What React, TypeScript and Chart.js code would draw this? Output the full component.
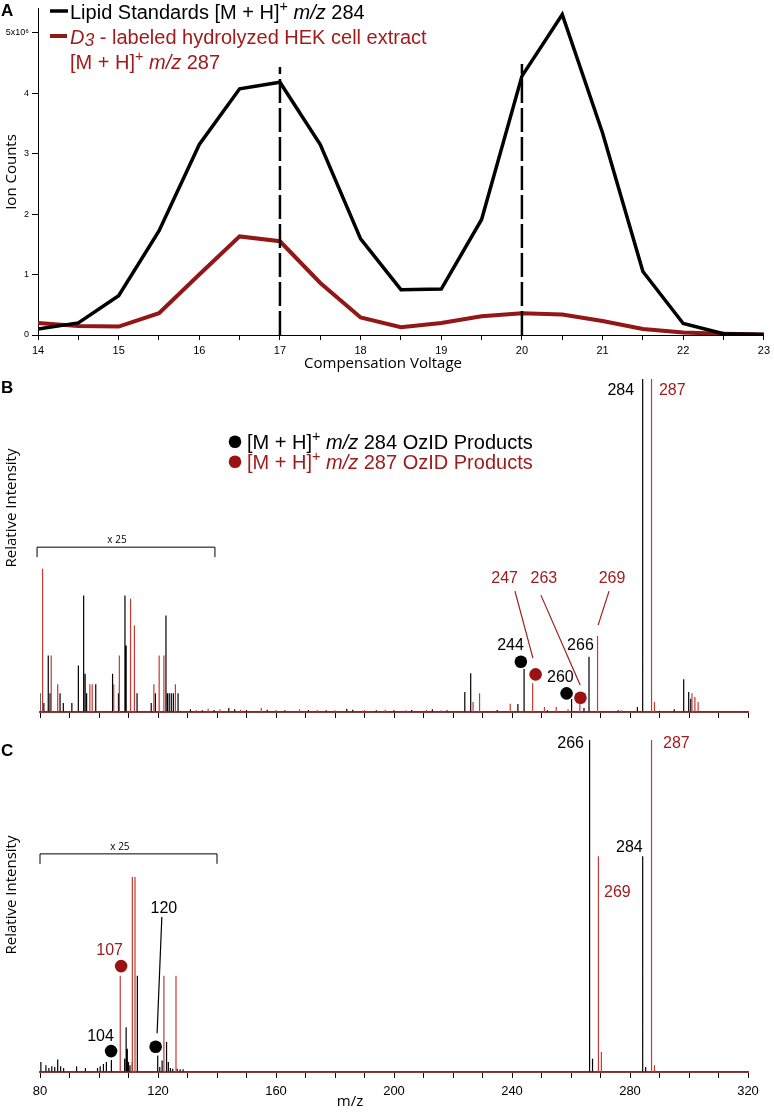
import React, { useEffect, useRef } from "react";
import { Chart, registerables } from "chart.js";

Chart.register(...registerables);

const FONT = '"Liberation Sans", Arial, Helvetica, sans-serif';
const HUMAN = '"Open Sans", "Noto Sans", sans-serif';
const NARROW = '"Liberation Sans Narrow", "Liberation Sans", Arial, sans-serif';
const BLACK = "#000000";
const RED_TEXT = "#a01c1c";
const RED_LINE = "#921717";
const RED_SPEC = "#c43a36";
const RED_DOT = "#9a1212";
const AXIS_RED = "#8a3a38";

Chart.defaults.font.family = FONT;

// ---------- Panel A: ion counts vs compensation voltage ----------
const compensationVoltage = [14, 14.5, 15, 15.5, 16, 16.5, 17, 17.5, 18, 18.5, 19, 19.5, 20, 20.5, 21, 21.5, 22, 22.5, 23];
const lipidStandards284 = [0.1, 0.2, 0.65, 1.72, 3.15, 4.07, 4.18, 3.15, 1.59, 0.75, 0.76, 1.91, 4.28, 5.3, 3.34, 1.05, 0.19, 0.02, 0.01];
const hekExtract287 = [0.2, 0.15, 0.14, 0.36, 1.0, 1.63, 1.55, 0.86, 0.29, 0.13, 0.2, 0.31, 0.36, 0.34, 0.23, 0.1, 0.04, 0.02, 0.01];
const markerVoltages = [17, 20];
const markerTops = [4.43, 4.48];
const ionCountTicks = [0, 1, 2, 3, 4, 5];
const ionCountLabels = ["0", "1", "2", "3", "4", "5x10⁶"];

// ---------- Panel B: OzID spectra (relative intensity %) ----------
const bStdMz = [80.0, 81.3, 82.8, 83.4, 86.8, 87.9, 90.8, 93.0, 94.8, 95.3, 95.8, 98.9, 104.6, 106.6, 108.8, 109.2, 112.9, 117.7, 119.1, 122.7, 123.2, 123.8, 124.5, 125.2, 126.8, 131, 135, 139, 144, 146, 150, 157, 163, 171, 177, 184, 186, 194, 200, 206, 213, 218, 224.0, 226.0, 235, 242.0, 244.1, 252, 260.2, 264.4, 266.1, 276, 282.5, 284.3, 290, 295, 298.2, 299.9, 300.6];
const bStdInt = [5.6, 2.7, 17, 5.6, 5.6, 2.7, 2.7, 14, 35, 11.5, 5.6, 8.3, 11.5, 5.6, 35, 20, 5.6, 2.7, 5.6, 29, 5.6, 5.6, 5.6, 5.6, 5.6, 0.8, 0.5, 0.6, 1.2, 0.8, 0.6, 0.7, 0.5, 0.6, 0.5, 1.0, 0.7, 0.5, 0.5, 0.6, 0.8, 0.5, 6, 11.6, 0.6, 2.4, 12.9, 0.5, 3.9, 1.2, 16.6, 0.5, 1.5, 100, 0.4, 0.8, 9.8, 6, 4];
const bLabMz = [80.7, 81.0, 83.8, 86.0, 96.9, 97.7, 105.0, 106.9, 110.7, 112.0, 118.6, 120.4, 122.0, 125.9, 133, 137, 141, 148, 155, 160, 168, 174, 180, 190, 197, 204, 211, 216, 226.8, 229.0, 239.4, 247.0, 251, 255, 259, 263.0, 269.0, 277, 287.3, 288.3, 301.0, 302.0, 303.1];
const bLabInt = [43, 17, 17, 8.3, 8.3, 8.3, 8.3, 17, 34, 26, 8.3, 17, 17, 8.3, 0.6, 1.0, 0.8, 0.7, 1.2, 0.6, 0.8, 0.6, 0.5, 0.6, 0.7, 0.5, 0.6, 0.5, 3, 5.6, 2.5, 8.6, 1.5, 1.5, 0.8, 2.5, 22.8, 0.5, 100, 3, 5.6, 4.5, 3];

// ---------- Panel C ----------
const cStdMz = [80.3, 82, 83, 84, 85, 86, 87, 88, 92.4, 95.4, 99.5, 100.4, 101.5, 102.5, 104.2, 108.7, 109.2, 109.6, 110.0, 110.5, 111.3, 113.0, 119.9, 120.6, 121.4, 122.9, 123.5, 124.2, 125.0, 126.5, 127.5, 128.5, 266.3, 267.3, 284.3, 285.3];
const cStdInt = [3, 2, 1.2, 1.7, 1.5, 3.8, 1.7, 1.2, 1.7, 1.2, 1.2, 1.7, 2.4, 3, 3.6, 4, 13.5, 7, 3, 2, 3, 29, 5, 1.5, 3.5, 9, 3, 1.2, 1, 1, 0.8, 0.8, 100, 4, 65, 1.5];
const cLabMz = [107.2, 111.3, 112.2, 122.0, 126.1, 269.3, 270.3, 287.3, 288.3];
const cLabInt = [29, 58.7, 58.7, 29, 29, 65, 6, 100, 2];

const mzMin = 80;
const mzMax = 320;

// annotations (data coordinates: m/z, % intensity)
type Lbl = { t: string; m: number; v: number; col: string; align: CanvasTextAlign };
const bLabels: Lbl[] = [
  { t: "284", m: 281.4, v: 96.4, col: BLACK, align: "right" },
  { t: "287", m: 289.8, v: 96.4, col: RED_TEXT, align: "left" },
  { t: "247", m: 237.5, v: 40.2, col: RED_TEXT, align: "center" },
  { t: "263", m: 250.8, v: 40.2, col: RED_TEXT, align: "center" },
  { t: "269", m: 273.9, v: 40.2, col: RED_TEXT, align: "center" },
  { t: "244", m: 239.5, v: 19.8, col: BLACK, align: "center" },
  { t: "266", m: 263.2, v: 19.8, col: BLACK, align: "center" },
  { t: "260", m: 256.4, v: 10.2, col: BLACK, align: "center" },
];
const bDots = [
  { m: 243.0, v: 15.1, col: BLACK },
  { m: 248.0, v: 11.3, col: RED_DOT },
  { m: 258.5, v: 5.6, col: BLACK },
  { m: 263.2, v: 4.3, col: RED_DOT },
];
const bLeaders = [
  { m1: 241.0, v1: 36.3, m2: 247.1, v2: 16.2, col: RED_TEXT },
  { m1: 249.8, v1: 35.1, m2: 263.1, v2: 8.1, col: RED_TEXT },
  { m1: 272.9, v1: 36.3, m2: 269.2, v2: 26.1, col: RED_TEXT },
];
const bBracket = { m1: 79.0, m2: 139.3, v: 49.5, v2: 46.5, lm: 106.1, lv: 51.7 };

const cLabels: Lbl[] = [
  { t: "266", m: 264.4, v: 98.8, col: BLACK, align: "right" },
  { t: "287", m: 291.2, v: 98.8, col: RED_TEXT, align: "left" },
  { t: "284", m: 279.8, v: 67.5, col: BLACK, align: "center" },
  { t: "269", m: 271.2, v: 53.9, col: RED_TEXT, align: "left" },
  { t: "107", m: 103.6, v: 36.7, col: RED_TEXT, align: "center" },
  { t: "104", m: 100.5, v: 10.8, col: BLACK, align: "center" },
  { t: "120", m: 122.0, v: 49.1, col: BLACK, align: "center" },
];
const cDots = [
  { m: 107.5, v: 31.9, col: RED_DOT },
  { m: 104.1, v: 6.3, col: BLACK },
  { m: 119.2, v: 7.6, col: BLACK },
];
const cLeaders = [{ m1: 121.3, v1: 46.7, m2: 119.7, v2: 11.7, col: BLACK }];
const cBracket = { m1: 80.0, m2: 140.0, v: 65.7, v2: 62.7, lm: 107.1, lv: 67.8 };

type Seg = { t: string; i?: boolean; sup?: boolean; sub?: boolean };

function drawRich(ctx: CanvasRenderingContext2D, x: number, y: number, segs: Seg[], size: number, color: string) {
  ctx.save();
  ctx.fillStyle = color;
  ctx.textAlign = "left";
  ctx.textBaseline = "alphabetic";
  let cx = x;
  for (const s of segs) {
    const sz = s.sup ? size * 0.72 : s.sub ? size * 0.88 : size;
    ctx.font = `${s.i ? "italic " : ""}${sz}px ${FONT}`;
    const dy = s.sup ? -size * 0.4 : s.sub ? size * 0.12 : 0;
    ctx.fillText(s.t, cx, y + dy);
    cx += ctx.measureText(s.t).width;
  }
  ctx.restore();
}

function vText(ctx: CanvasRenderingContext2D, text: string, x: number, y: number, font: string) {
  ctx.save();
  ctx.translate(x, y);
  ctx.rotate(-Math.PI / 2);
  ctx.font = font;
  ctx.fillStyle = BLACK;
  ctx.textAlign = "center";
  ctx.textBaseline = "middle";
  ctx.fillText(text, 0, 0);
  ctx.restore();
}

function letter(ctx: CanvasRenderingContext2D, t: string, x: number, y: number) {
  ctx.save();
  ctx.font = `bold 17px ${FONT}`;
  ctx.fillStyle = BLACK;
  ctx.textAlign = "left";
  ctx.textBaseline = "middle";
  ctx.fillText(t, x, y);
  ctx.restore();
}

function hline(ctx: CanvasRenderingContext2D, x1: number, y1: number, x2: number, y2: number, col: string, w: number) {
  ctx.save();
  ctx.strokeStyle = col;
  ctx.lineWidth = w;
  ctx.beginPath();
  ctx.moveTo(x1, y1);
  ctx.lineTo(x2, y2);
  ctx.stroke();
  ctx.restore();
}

function sticks(mz: number[], inten: number[]) {
  const pts = mz.map((m, i) => ({ m, h: inten[i] })).sort((a, b) => a.m - b.m);
  const out: { x: number; y: number }[] = [{ x: mzMin, y: 0 }];
  pts.forEach((p) => {
    out.push({ x: p.m, y: 0 }, { x: p.m, y: p.h }, { x: p.m, y: 0 });
  });
  out.push({ x: mzMax, y: 0 });
  return out;
}

function buildA(canvas: HTMLCanvasElement) {
  const pts = (ys: number[]) => compensationVoltage.map((x, i) => ({ x, y: ys[i] }));
  const markers = markerVoltages.map((x, i) => ({
    data: [{ x, y: 0 }, { x, y: markerTops[i] }],
    borderColor: BLACK,
    borderWidth: 2.5,
    borderDash: [24, 5],
    pointRadius: 0,
  }));
  return new Chart(canvas, {
    type: "line",
    data: {
      datasets: [
        ...markers,
        { data: pts(lipidStandards284), borderColor: BLACK, borderWidth: 3.5, pointRadius: 0 },
        { data: pts(hekExtract287), borderColor: RED_LINE, borderWidth: 4, pointRadius: 0 },
      ] as any,
    },
    options: {
      animation: false,
      responsive: false,
      events: [],
      layout: { padding: { left: 0, right: 7, top: 0, bottom: 0 } },
      plugins: { legend: { display: false }, tooltip: { enabled: false } },
      scales: {
        x: {
          type: "linear",
          min: 14,
          max: 23,
          afterFit: (s: any) => {
            s.height = 40;
          },
          ticks: {
            stepSize: 0.5,
            autoSkip: false,
            maxRotation: 0,
            padding: 4,
            color: BLACK,
            font: { family: NARROW, size: 11 },
            callback: (v: any) => (Number.isInteger(Number(v)) ? String(v) : ""),
          },
          grid: { drawOnChartArea: false, tickLength: 5, tickColor: BLACK },
          border: { display: true, color: BLACK, width: 1 },
        },
        y: {
          type: "linear",
          min: 0,
          max: 5.4,
          afterFit: (s: any) => {
            s.width = 38;
          },
          afterBuildTicks: (s: any) => {
            s.ticks = ionCountTicks.map((v) => ({ value: v }));
          },
          ticks: {
            padding: 3,
            color: BLACK,
            font: { family: FONT, size: 9 },
            callback: (v: any) => ionCountLabels[ionCountTicks.indexOf(Number(v))],
          },
          grid: { drawOnChartArea: false, tickLength: 6, tickColor: BLACK },
          border: { display: true, color: BLACK, width: 1 },
        },
      },
    } as any,
    plugins: [
      {
        id: "annA",
        afterDraw(chart: any) {
          const ctx = chart.ctx as CanvasRenderingContext2D;
          letter(ctx, "A", 1, 11);
          hline(ctx, 50, 11, 68, 11, BLACK, 3.5);
          drawRich(ctx, 70, 19, [{ t: "Lipid Standards [M + H]" }, { t: "+", sup: true }, { t: " " }, { t: "m/z", i: true }, { t: " 284" }], 20, BLACK);
          hline(ctx, 50, 36, 67, 36, RED_LINE, 4);
          drawRich(ctx, 70, 44, [{ t: "D", i: true }, { t: "3", i: true, sub: true }, { t: " - labeled hydrolyzed HEK cell extract" }], 20, RED_TEXT);
          drawRich(ctx, 70, 69, [{ t: "[M + H]" }, { t: "+", sup: true }, { t: " " }, { t: "m/z", i: true }, { t: " 287" }], 20, RED_TEXT);
          vText(ctx, "Ion Counts", 12, 172, `15px ${HUMAN}`);
          ctx.save();
          ctx.font = `15px ${HUMAN}`;
          ctx.fillStyle = BLACK;
          ctx.textAlign = "center";
          ctx.textBaseline = "middle";
          ctx.fillText("Compensation Voltage", 383, 364);
          ctx.restore();
        },
      },
    ],
  });
}

function drawAnnotations(chart: any, labels: Lbl[], dots: any[], leaders: any[], br: any) {
  const ctx = chart.ctx as CanvasRenderingContext2D;
  const X = (m: number) => chart.scales.x.getPixelForValue(m);
  const Y = (v: number) => chart.scales.y.getPixelForValue(v);
  leaders.forEach((l) => hline(ctx, X(l.m1), Y(l.v1), X(l.m2), Y(l.v2), l.col, 1.2));
  dots.forEach((d) => {
    ctx.save();
    ctx.fillStyle = d.col;
    ctx.beginPath();
    ctx.arc(X(d.m), Y(d.v), 6.3, 0, Math.PI * 2);
    ctx.fill();
    ctx.restore();
  });
  labels.forEach((l) => {
    ctx.save();
    ctx.font = `16px ${FONT}`;
    ctx.fillStyle = l.col;
    ctx.textAlign = l.align;
    ctx.textBaseline = "middle";
    ctx.fillText(l.t, X(l.m), Y(l.v));
    ctx.restore();
  });
  // x25 bracket
  ctx.save();
  ctx.strokeStyle = BLACK;
  ctx.lineWidth = 1;
  ctx.beginPath();
  ctx.moveTo(X(br.m1), Y(br.v2));
  ctx.lineTo(X(br.m1), Y(br.v));
  ctx.lineTo(X(br.m2), Y(br.v));
  ctx.lineTo(X(br.m2), Y(br.v2));
  ctx.stroke();
  ctx.font = `10px ${HUMAN}`;
  ctx.fillStyle = BLACK;
  ctx.textAlign = "center";
  ctx.textBaseline = "middle";
  ctx.fillText("x 25", X(br.lm), Y(br.lv));
  ctx.restore();
}

function spectrumOptions(padTop: number, axisH: number, showLabels: boolean) {
  return {
    animation: false,
    responsive: false,
    events: [],
    layout: { padding: { left: 40, right: 26, top: padTop, bottom: 0 } },
    plugins: { legend: { display: false }, tooltip: { enabled: false } },
    scales: {
      x: {
        type: "linear",
        min: mzMin,
        max: mzMax,
        afterFit: (s: any) => {
          s.height = axisH;
        },
        ticks: {
          stepSize: 10,
          autoSkip: false,
          maxRotation: 0,
          padding: 6,
          color: BLACK,
          font: { family: FONT, size: 13 },
          callback: (v: any) => (showLabels && Number(v) % 40 === 0 ? String(v) : ""),
        },
        grid: { drawOnChartArea: false, tickLength: 6, tickColor: BLACK, tickWidth: 1 },
        border: { display: true, color: AXIS_RED, width: 2 },
      },
      y: { type: "linear", display: false, min: 0, max: 100 },
    },
  } as any;
}

function buildB(canvas: HTMLCanvasElement) {
  return new Chart(canvas, {
    type: "line",
    data: {
      datasets: [
        { data: sticks(bLabMz, bLabInt), borderColor: RED_SPEC, borderWidth: 1.2, pointRadius: 0 },
        { data: sticks(bStdMz, bStdInt), borderColor: BLACK, borderWidth: 1.2, pointRadius: 0 },
      ] as any,
    },
    options: spectrumOptions(4, 18, false),
    plugins: [
      {
        id: "annB",
        afterDraw(chart: any) {
          const ctx = chart.ctx as CanvasRenderingContext2D;
          letter(ctx, "B", 1, 13);
          vText(ctx, "Relative Intensity", 12, 133, `15px ${HUMAN}`);
          ctx.save();
          ctx.fillStyle = BLACK;
          ctx.beginPath();
          ctx.arc(235, 66.7, 6.3, 0, Math.PI * 2);
          ctx.fill();
          ctx.fillStyle = RED_DOT;
          ctx.beginPath();
          ctx.arc(235, 86.7, 6.3, 0, Math.PI * 2);
          ctx.fill();
          ctx.restore();
          drawRich(ctx, 247, 74, [{ t: "[M + H]" }, { t: "+", sup: true }, { t: " " }, { t: "m/z", i: true }, { t: " 284 OzID Products" }], 20, BLACK);
          drawRich(ctx, 247, 94, [{ t: "[M + H]" }, { t: "+", sup: true }, { t: " " }, { t: "m/z", i: true }, { t: " 287 OzID Products" }], 20, RED_TEXT);
          drawAnnotations(chart, bLabels, bDots, bLeaders, bBracket);
        },
      },
    ],
  });
}

function buildC(canvas: HTMLCanvasElement) {
  return new Chart(canvas, {
    type: "line",
    data: {
      datasets: [
        { data: sticks(cLabMz, cLabInt), borderColor: RED_SPEC, borderWidth: 1.2, pointRadius: 0 },
        { data: sticks(cStdMz, cStdInt), borderColor: BLACK, borderWidth: 1.2, pointRadius: 0 },
      ] as any,
    },
    options: spectrumOptions(10, 44, true),
    plugins: [
      {
        id: "annC",
        afterDraw(chart: any) {
          const ctx = chart.ctx as CanvasRenderingContext2D;
          letter(ctx, "C", 1, 21);
          vText(ctx, "Relative Intensity", 12, 165, `15px ${HUMAN}`);
          ctx.save();
          ctx.font = `15px ${HUMAN}`;
          ctx.fillStyle = BLACK;
          ctx.textAlign = "center";
          ctx.textBaseline = "middle";
          ctx.fillText("m/z", 350, 372);
          ctx.restore();
          drawAnnotations(chart, cLabels, cDots, cLeaders, cBracket);
        },
      },
    ],
  });
}

function Panel({ top, height, build }: { top: number; height: number; build: (c: HTMLCanvasElement) => Chart }) {
  const ref = useRef<HTMLCanvasElement>(null);
  useEffect(() => {
    const chart = build(ref.current as HTMLCanvasElement);
    return () => chart.destroy();
  }, []);
  return (
    <canvas
      ref={ref}
      width={774}
      height={height}
      style={{ position: "absolute", left: 0, top, width: 774, height, display: "block" }}
    />
  );
}

export default function App() {
  return (
    <div style={{ position: "absolute", left: 0, top: 0, width: 774, height: 1116, background: "#fff", overflow: "hidden" }}>
      <Panel top={0} height={375} build={buildA} />
      <Panel top={375} height={355} build={buildB} />
      <Panel top={730} height={386} build={buildC} />
    </div>
  );
}
